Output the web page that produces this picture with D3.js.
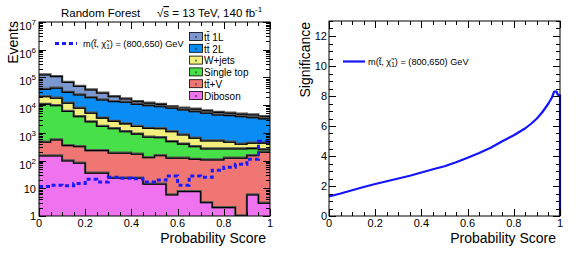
<!DOCTYPE html>
<html>
<head>
<script src="https://d3js.org/d3.v7.min.js"></script>
<style>
  body { margin: 0; background: #fff; }
  text { font-family: "Liberation Sans", Arial, sans-serif; fill: #000; }
</style>
</head>
<body>
<svg width="581" height="254"></svg>
<script>
// ---- data ----
const binLow = [0, 0.05, 0.1, 0.15, 0.2, 0.25, 0.3, 0.35, 0.4, 0.45,
                0.5, 0.55, 0.6, 0.65, 0.7, 0.75, 0.8, 0.85, 0.9, 0.95];
const processes = ["Diboson", "ttV", "SingleTop", "Wjets", "tt2L", "tt1L"];
const diboson  = [147, 147, 96, 80, 35, 35, 23, 23, 23, 14, 14, 5.7, 7.6, 7.6, 3.0, 2.0, 2.0, 0.8, 5.7, 2.9];
const ttV      = [310, 403, 250, 236, 193, 193, 160, 160, 146, 113, 136, 115, 113, 103, 102, 103, 119, 120, 144, 197];
const singleTop= [10240, 8950, 5550, 3480, 2270, 1470, 1220, 920, 730, 570, 520, 360, 270, 205, 157, 157, 141, 141, 120, 45];
const wjets    = [9300, 8300, 5800, 3900, 2600, 1700, 1200, 1000, 800, 750, 730, 620, 450, 324, 248, 248, 198, 128, 150, 180];
const tt2L     = [17000, 22700, 17300, 15600, 13500, 12000, 10800, 10600, 9000, 8050, 7400, 6600, 5860, 5160, 4590, 3890, 3740, 3410, 3080, 2780];
const tt1L     = [86000, 66500, 37000, 23700, 16400, 11600, 6600, 3900, 2700, 2200, 1900, 1100, 1000, 1300, 1100, 1100, 900, 900, 900, 600];
const signal   = [11.5, 13, 12.4, 15, 21, 17, 25, 23, 22, 17, 20, 28, 13, 28, 25, 45, 58, 73, 112, 500];

const sigScore = [0, 0.05, 0.1, 0.15, 0.2, 0.25, 0.3, 0.35, 0.4, 0.45, 0.5, 0.55, 0.6, 0.65, 0.7,
                  0.75, 0.8, 0.85, 0.875, 0.9, 0.925, 0.95, 0.965, 0.975, 0.985, 0.99, 0.995, 1.0, 1.0];
const significance = [1.3, 1.5, 1.72, 1.93, 2.13, 2.32, 2.5, 2.68, 2.9, 3.12, 3.32, 3.58, 3.88, 4.2, 4.55,
                  4.98, 5.38, 5.85, 6.15, 6.5, 6.95, 7.5, 7.9, 8.3, 8.3, 8.1, 8.05, 8.05, 0];

const legendLabels = ["t\u0074\u0304 1L", "t\u0074\u0304 2L", "W+jets", "Single top", "t\u0074\u0304+V", "Diboson"];
const colors = {
  tt1L: "#7b98d0", tt2L: "#0a8cf5", Wjets: "#f2ef7c",
  SingleTop: "#47e048", ttV: "#f07674", Diboson: "#ef73ef"
};
const xTicks = [0, 0.2, 0.4, 0.6, 0.8, 1];
const logTicks = [0, 1, 2, 3, 4, 5, 6, 7];
const sigTicks = [0, 2, 4, 6, 8, 10, 12];

const svg = d3.select("svg");

// ---- left panel ----
const L = {x0: 39, x1: 270, y0: 22, y1: 216};
const x = d3.scaleLinear().domain([0, 1]).range([L.x0, L.x1]);
const y = d3.scaleLog().domain([1, 1e7]).range([L.y1, L.y0]).clamp(true);

svg.append("clipPath").attr("id", "clipL")
  .append("rect").attr("x", L.x0).attr("y", L.y0)
  .attr("width", L.x1 - L.x0).attr("height", L.y1 - L.y0);

const series = {Diboson: diboson, ttV: ttV, SingleTop: singleTop, Wjets: wjets, tt2L: tt2L, tt1L: tt1L};
const table = binLow.map((b, i) => {
  const row = {lo: b};
  processes.forEach(p => row[p] = series[p][i]);
  return row;
});
// extra point closing the last bin
table.push(Object.assign({}, table[table.length - 1], {lo: 1}));

const stacked = d3.stack().keys(processes)(table);

const gL = svg.append("g").attr("clip-path", "url(#clipL)");
const area = d3.area().curve(d3.curveStepAfter)
  .x(d => x(d.data.lo)).y0(L.y1).y1(d => y(Math.max(d[1], 0.5)));
const topLine = d3.line().curve(d3.curveStepAfter)
  .x(d => x(d.data.lo)).y(d => y(Math.max(d[1], 0.5)));

// draw from the top layer down so lower ones paint over
stacked.slice().reverse().forEach(s => {
  gL.append("path").attr("d", area(s)).attr("fill", colors[s.key]);
  gL.append("path").attr("d", topLine(s)).attr("fill", "none")
    .attr("stroke", "#555").attr("stroke-width", 2.2).attr("transform", "translate(0,-0.6)");
  gL.append("path").attr("d", topLine(s)).attr("fill", "none")
    .attr("stroke", "#000").attr("stroke-width", 1.1);
});

// signal dashed histogram
const sigData = binLow.map((b, i) => ({lo: b, v: signal[i]}));
sigData.push({lo: 1, v: signal[signal.length - 1]});
gL.append("path")
  .attr("d", d3.line().curve(d3.curveStepAfter).x(d => x(d.lo)).y(d => y(d.v))(sigData))
  .attr("fill", "none").attr("stroke", "#1a1aff").attr("stroke-width", 3)
  .attr("stroke-dasharray", "4,3");

// frame and ticks
function frame(P) {
  svg.append("rect").attr("x", P.x0).attr("y", P.y0)
    .attr("width", P.x1 - P.x0).attr("height", P.y1 - P.y0)
    .attr("fill", "none").attr("stroke", "#000").attr("stroke-width", 1);
}
function xTickMarks(P, xs) {
  const g = svg.append("g").attr("stroke", "#000").attr("stroke-width", 1);
  d3.range(0, 1.0001, 0.05).forEach(v => {
    const major = xTicks.some(t => Math.abs(t - v) < 1e-6);
    const len = major ? 7 : 4;
    const px = Math.round(xs(v)) + 0.5;
    g.append("line").attr("x1", px).attr("x2", px).attr("y1", P.y1).attr("y2", P.y1 - len);
    g.append("line").attr("x1", px).attr("x2", px).attr("y1", P.y0).attr("y2", P.y0 + len);
  });
  xTicks.forEach(t => {
    svg.append("text").attr("x", xs(t)).attr("y", P.y1 + 11)
      .attr("text-anchor", "middle").attr("font-size", 11).text(d3.format("")(t));
  });
}
function yTick(P, py, len) {
  const g = svg.append("g").attr("stroke", "#000").attr("stroke-width", 1);
  const yy = Math.round(py) + 0.5;
  g.append("line").attr("x1", P.x0).attr("x2", P.x0 + len).attr("y1", yy).attr("y2", yy);
  g.append("line").attr("x1", P.x1).attr("x2", P.x1 - len).attr("y1", yy).attr("y2", yy);
}

frame(L);
xTickMarks(L, x);
logTicks.forEach(e => {
  yTick(L, y(Math.pow(10, e)), 7);
  if (e < 7) d3.range(2, 10).forEach(m => yTick(L, y(m * Math.pow(10, e)), 4));
  const t = svg.append("text").attr("font-size", 11).attr("text-anchor", "end");
  if (e === 0) {
    t.attr("x", 36).attr("y", y(1) + 4).text("1");
  } else if (e === 1) {
    t.attr("x", 36).attr("y", y(10) + 5).text("10");
  } else {
    t.attr("x", 36).attr("y", y(Math.pow(10, e)) + 8);
    t.append("tspan").text("10");
    t.append("tspan").attr("font-size", 8).attr("dy", -5).text(e);
  }
});

svg.append("text").attr("transform", `translate(18,${L.y0 - 1}) rotate(-90)`)
  .attr("text-anchor", "end").attr("font-size", 14).text("Events");
svg.append("text").attr("x", L.x1 - 4).attr("y", 243)
  .attr("text-anchor", "end").attr("font-size", 14).text("Probability Score");

// title
svg.append("text").attr("x", 61).attr("y", 17).attr("font-size", 11.5).text("Random Forest");
const tt = svg.append("text").attr("x", 157).attr("y", 17).attr("font-size", 11.5);
tt.append("tspan").text("\u221A");
tt.append("tspan").attr("text-decoration", "overline").text("s");
tt.append("tspan").text(" = 13 TeV,  140 fb");
tt.append("tspan").attr("font-size", 8).attr("dy", -5).text("-1");

// legend (stack)
const legKeys = ["tt1L", "tt2L", "Wjets", "SingleTop", "ttV", "Diboson"];
legKeys.forEach((k, i) => {
  const cy = 37 + i * 11.8;
  svg.append("rect").attr("x", 189.5).attr("y", cy - 4.5).attr("width", 13).attr("height", 8)
    .attr("fill", colors[k]).attr("stroke", "#000").attr("stroke-width", 0.8);
  svg.append("rect").attr("x", 195).attr("y", cy - 1).attr("width", 2).attr("height", 2)
    .attr("fill", "#333").attr("opacity", 0.6);
  svg.append("text").attr("x", 204).attr("y", cy + 3.7).attr("font-size", 10).text(legendLabels[i]);
});

// signal legend
svg.append("line").attr("x1", 55).attr("x2", 77).attr("y1", 43.5).attr("y2", 43.5)
  .attr("stroke", "#1a1aff").attr("stroke-width", 3).attr("stroke-dasharray", "4,3");
function sigLabel(xp, yp, fs) {
  const t = svg.append("text").attr("x", xp).attr("y", yp).attr("font-size", fs);
  t.append("tspan").text("m(t\u0303, \u03C7\u0303");
  t.append("tspan").attr("font-size", fs * 0.7).attr("dy", 2).text("1");
  t.append("tspan").attr("dy", -2).text(") = (800,650) GeV");
}
sigLabel(83, 47, 9.2);

// ---- right panel ----
const R = {x0: 329, x1: 560, y0: 21, y1: 216};
const xr = d3.scaleLinear().domain([0, 1]).range([R.x0, R.x1]);
const yr = d3.scaleLinear().domain([0, 13]).range([R.y1, R.y0]);

svg.append("path")
  .attr("d", d3.line().x((d, i) => xr(sigScore[i])).y(d => yr(d))(significance))
  .attr("fill", "none").attr("stroke", "#1414ff").attr("stroke-width", 2.2)
  .attr("stroke-linejoin", "round");

frame(R);
xTickMarks(R, xr);
d3.range(0, 13.01, 0.5).forEach(v => {
  const major = sigTicks.includes(v);
  yTick(R, yr(v), major ? 7 : 4);
});
sigTicks.forEach(t => {
  svg.append("text").attr("x", R.x0 - 2).attr("y", yr(t) + 4)
    .attr("text-anchor", "end").attr("font-size", 11).text(t);
});
svg.append("text").attr("transform", `translate(310,${R.y0 + 1}) rotate(-90)`)
  .attr("text-anchor", "end").attr("font-size", 14).text("Significance");
svg.append("text").attr("x", R.x1 - 4).attr("y", 243)
  .attr("text-anchor", "end").attr("font-size", 14).text("Probability Score");

svg.append("line").attr("x1", 343).attr("x2", 365).attr("y1", 61.5).attr("y2", 61.5)
  .attr("stroke", "#1414ff").attr("stroke-width", 2.2);
sigLabel(368, 65, 9.2);
</script>
</body>
</html>
